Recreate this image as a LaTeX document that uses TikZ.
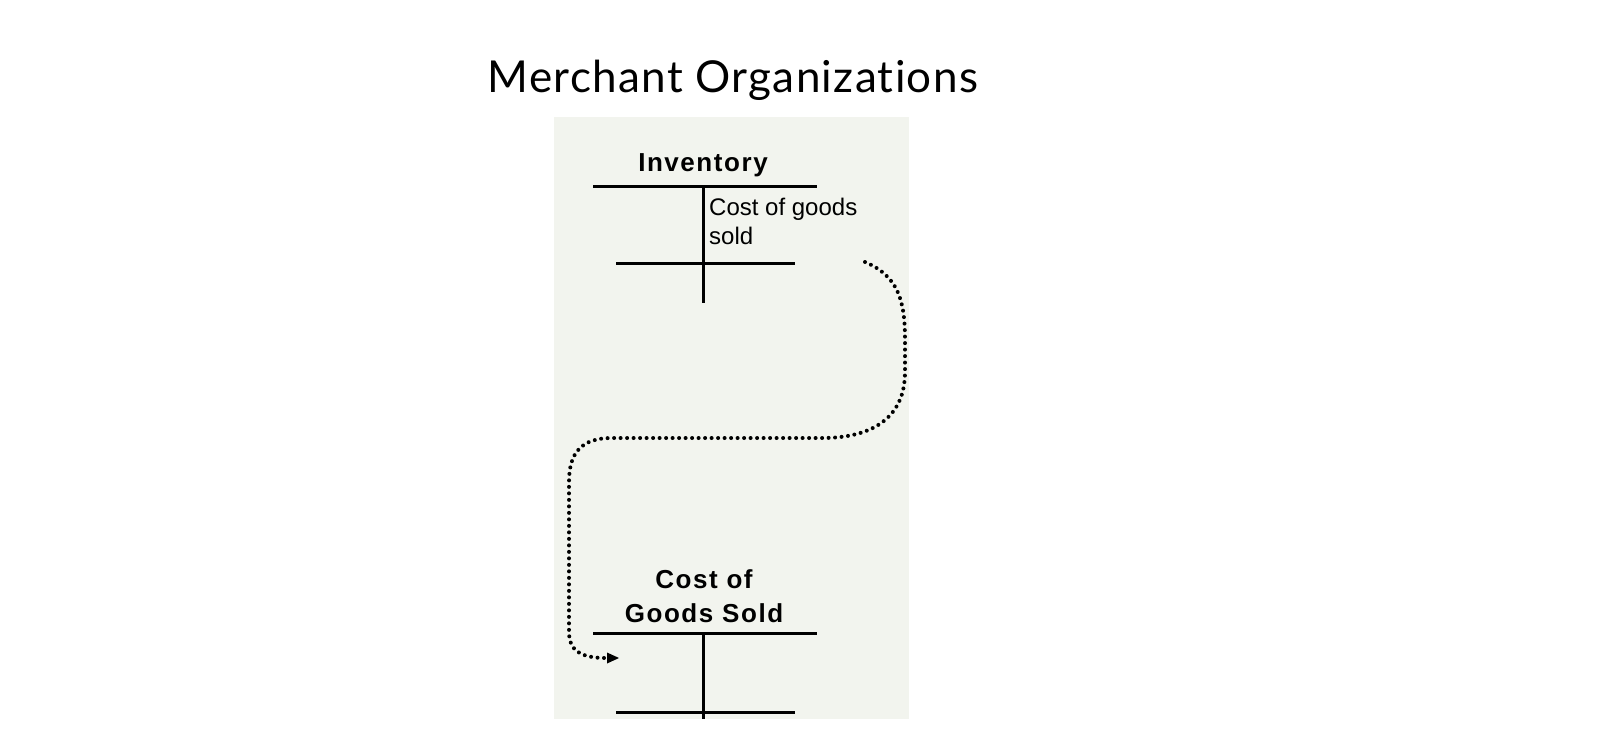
\documentclass[tikz,border=0pt]{standalone}
\usepackage{fontspec}
\setmainfont{Liberation Sans}
\newfontfamily\titlefont[Ligatures=NoCommon,LetterSpace=3]{Lato}
\newfontfamily\boldlab[LetterSpace=6]{Liberation Sans Bold}
\usetikzlibrary{arrows.meta}
\definecolor{panelbg}{RGB}{242,244,238}
\begin{document}
\begin{tikzpicture}[x=1pt,y=-1pt,
  tline/.style={line width=3pt},
  flow/.style={line width=4pt,dash pattern=on 0pt off 6.5pt,line cap=round},
  head/.style={font=\boldlab\fontsize{26}{34}\selectfont,anchor=base,inner sep=0pt,align=center},
  entry/.style={font=\fontsize{24}{29}\selectfont,anchor=base west,inner sep=0pt,align=left}]
\path[use as bounding box,fill=white] (0,0) rectangle (1611,729);
\fill[panelbg] (554,117) rectangle (909,719);
\node[anchor=base,inner sep=0pt,font=\titlefont\fontsize{44}{48}\selectfont] (title) at (733,92) {Merchant Organizations};
% Inventory T-account
\node[head] (invhead) at (703,171) {Inventory};
\coordinate (invTL) at (593,186); \coordinate (invTR) at (817,186);
\coordinate (invVT) at (703,186); \coordinate (invVB) at (703,303);
\coordinate (invBL) at (616,263); \coordinate (invBR) at (795,263);
\draw[tline] (invTL) -- (invTR);
\draw[tline] (invVT) -- (invVB);
\draw[tline] (invBL) -- (invBR);
\node[entry] (invcr) at (709,244) {Cost of goods\\sold};
% Cost of Goods Sold T-account
\node[head] (cogshead) at (704,622) {Cost of\\Goods Sold};
\coordinate (cgTL) at (593,633); \coordinate (cgTR) at (817,633);
\coordinate (cgVT) at (703,633); \coordinate (cgVB) at (703,719);
\coordinate (cgBL) at (616,712); \coordinate (cgBR) at (795,712);
\draw[tline] (cgTL) -- (cgTR);
\draw[tline] (cgVT) -- (cgVB);
\draw[tline] (cgBL) -- (cgBR);
% flow
\coordinate (fstart) at (865,262);
\coordinate (fend) at (606,658);
\coordinate (ftip) at (619,658);
\draw[flow] (fstart) .. controls (898,276) and (905,300) .. (905,340) -- (905,372)
  .. controls (905,418) and (872,438) .. (822,438) -- (612,438)
  .. controls (582,438) and (569,452) .. (569,482) -- (569,632)
  .. controls (569,650) and (580,658) .. (fend);
\fill (ftip) -- ++(-12,-5.5) -- ++(0,11) -- cycle;
\end{tikzpicture}
\end{document}
